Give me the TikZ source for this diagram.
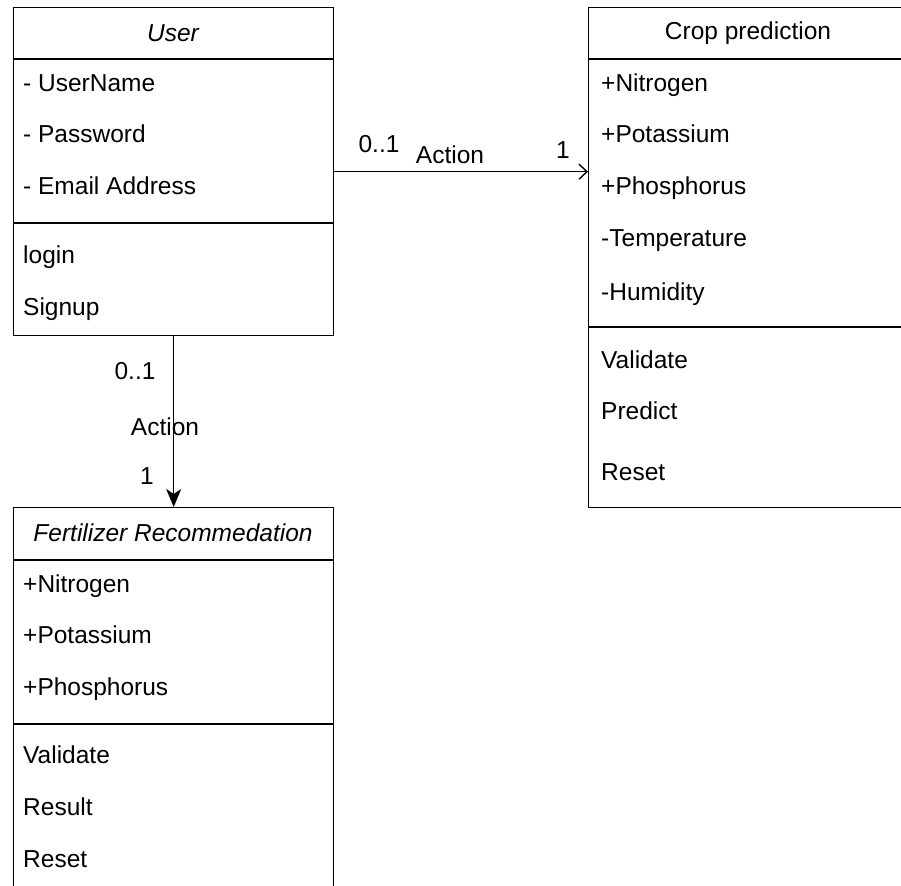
\documentclass[tikz,border=0pt]{standalone}
\usepackage{fontspec}
\setmainfont{Liberation Sans}
\usetikzlibrary{arrows.meta, calc, positioning}

\newcommand{\umlfont}{\fontsize{24.5}{28}\selectfont}

\begin{document}
\begin{tikzpicture}[x=1pt, y=-1pt,
		font=\umlfont,
		classbox/.style={draw, line width=1.4pt, rectangle, inner sep=0, anchor=north west},
		divider/.style={line width=1.4pt},
		classtitle/.style={inner sep=0},
		row/.style={anchor=west, inner sep=0, text height=17pt, text depth=5pt},
		mult/.style={inner sep=0},
		assoc/.style={line width=1.4pt, -{Straight Barb[length=8pt, width=15pt]}},
		navig/.style={line width=1.4pt, -{Stealth[length=18pt, width=15pt, inset=5pt]}}
		]
		
		\useasboundingbox (0,0) rectangle (901,885);
		\fill[white] (0,0) rectangle (901,885);
		\clip (0,0) rectangle (901,885);
		
		% ----- User -----
		\node[classbox, minimum width=320pt, minimum height=328pt] (user) at (13,7) {};
		\draw[divider] ([yshift=-52pt]user.north west) -- ([yshift=-52pt]user.north east);
		\draw[divider] ([yshift=-216pt]user.north west) -- ([yshift=-216pt]user.north east);
		\node[classtitle, font=\umlfont\itshape] (user-t) at (173,33) {User};
		\node[row] (user-a1) at (23,86) {- UserName};
		\node[row] (user-a2) at (23,137) {- Password};
		\node[row] (user-a3) at (23,189) {- Email Address};
		\node[row] (user-m1) at (23,257) {login};
		\node[row] (user-m2) at (23,309) {Signup};
		
		% ----- Crop prediction -----
		\node[classbox, minimum width=320pt, minimum height=500pt] (crop) at (588,7) {};
		\draw[divider] ([yshift=-52pt]crop.north west) -- ([yshift=-52pt]crop.north east);
		\draw[divider] ([yshift=-320pt]crop.north west) -- ([yshift=-320pt]crop.north east);
		\node[classtitle] (crop-t) at (748,33) {Crop prediction};
		\node[row] (crop-a1) at (601,86) {+Nitrogen};
		\node[row] (crop-a2) at (601,137) {+Potassium};
		\node[row] (crop-a3) at (601,189) {+Phosphorus};
		\node[row] (crop-a4) at (601,241) {-Temperature};
		\node[row] (crop-a5) at (601,294) {-Humidity};
		\node[row] (crop-m1) at (601,362) {Validate};
		\node[row] (crop-m2) at (601,413) {Predict};
		\node[row] (crop-m3) at (601,474) {Reset};
		
		% ----- Fertilizer Recommedation -----
		\node[classbox, minimum width=320pt, minimum height=400pt] (fert) at (13,507) {};
		\draw[divider] ([yshift=-53pt]fert.north west) -- ([yshift=-53pt]fert.north east);
		\draw[divider] ([yshift=-217pt]fert.north west) -- ([yshift=-217pt]fert.north east);
		\node[classtitle, font=\umlfont\itshape] (fert-t) at (173,533) {Fertilizer Recommedation};
		\node[row] (fert-a1) at (23,586) {+Nitrogen};
		\node[row] (fert-a2) at (23,637) {+Potassium};
		\node[row] (fert-a3) at (23,689) {+Phosphorus};
		\node[row] (fert-m1) at (23,757) {Validate};
		\node[row] (fert-m2) at (23,809) {Result};
		\node[row] (fert-m3) at (23,861) {Reset};
		
		% ----- Associations -----
		\draw[assoc] (user.east) -- (user.east -| crop.west);
		\node[mult] (m-u1) at (379,144) {0..1};
		\node[mult] (m-c1) at (450,155) {Action};
		\node[mult] (m-c2) at (563,150) {1};
		
		\draw[navig] (user.south) -- (fert.north);
		\node[mult] (m-u2) at (135,371) {0..1};
		\node[mult] (m-f1) at (165,427) {Action};
		\node[mult] (m-f2) at (147,476) {1};
		
	\end{tikzpicture}
\end{document}
